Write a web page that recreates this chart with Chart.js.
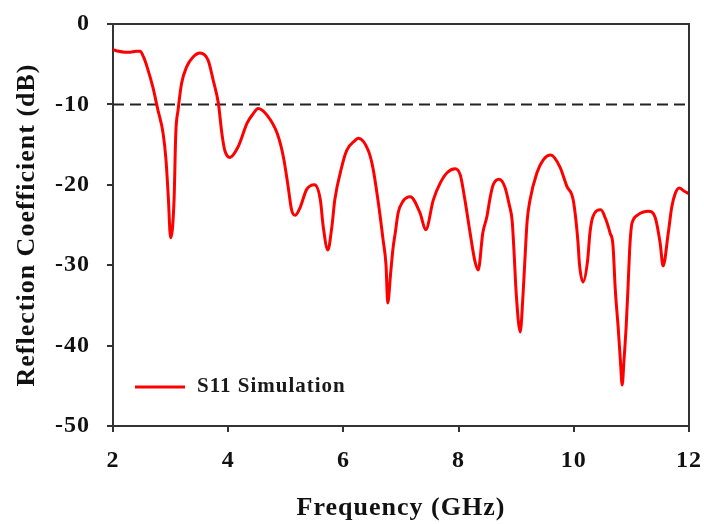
<!DOCTYPE html>
<html>
<head>
<meta charset="utf-8">
<script src="https://cdn.jsdelivr.net/npm/chart.js@4"></script>
<style>
  html, body { margin: 0; padding: 0; background: #fff; }
  #wrap { width: 704px; height: 524px; }
</style>
</head>
<body>
<div id="wrap"><canvas id="s11Chart" width="704" height="524"></canvas></div>
<script>
// Reflection coefficient
const freqGHz = [2.0, 2.1, 2.2, 2.3, 2.4, 2.47, 2.53, 2.59, 2.69, 2.78, 2.87, 2.92, 2.96, 3.0, 3.06, 3.09, 3.13, 3.19, 3.28, 3.39, 3.51, 3.65, 3.74, 3.83, 3.89, 3.94, 4.03, 4.17, 4.33, 4.43, 4.52, 4.67, 4.85, 4.96, 5.04, 5.1, 5.16, 5.25, 5.36, 5.5, 5.6, 5.65, 5.73, 5.8, 5.85, 5.97, 6.06, 6.2, 6.26, 6.43, 6.51, 6.6, 6.69, 6.74, 6.77, 6.82, 6.86, 6.9, 6.95, 7.03, 7.16, 7.33, 7.43, 7.56, 7.68, 7.8, 7.94, 8.03, 8.11, 8.2, 8.28, 8.34, 8.42, 8.49, 8.55, 8.6, 8.7, 8.8, 8.88, 8.93, 8.96, 9.0, 9.07, 9.12, 9.15, 9.19, 9.24, 9.36, 9.47, 9.6, 9.76, 9.88, 9.99, 10.07, 10.1, 10.16, 10.24, 10.28, 10.33, 10.47, 10.55, 10.63, 10.68, 10.72, 10.77, 10.81, 10.84, 10.87, 10.91, 10.94, 10.97, 11.0, 11.03, 11.1, 11.3, 11.41, 11.5, 11.55, 11.64, 11.7, 11.76, 11.83, 11.92, 12.0];
const s11dB = [-3.2, -3.4, -3.5, -3.5, -3.4, -3.4, -4.1, -5.3, -7.8, -10.7, -13.6, -16.9, -21.5, -26.6, -21.9, -13.6, -10.7, -7.4, -5.3, -4.1, -3.6, -4.5, -7.0, -9.9, -13.6, -15.7, -16.6, -15.3, -12.3, -11.2, -10.5, -11.3, -13.6, -16.6, -20.2, -23.1, -23.8, -22.8, -20.6, -20.0, -21.9, -25.2, -28.1, -25.2, -21.9, -17.8, -15.7, -14.5, -14.2, -15.7, -17.8, -21.9, -26.9, -30.0, -34.7, -31.0, -28.0, -26.0, -23.5, -22.1, -21.5, -23.5, -25.6, -21.9, -19.8, -18.5, -18.0, -18.8, -21.9, -26.0, -29.4, -30.6, -26.0, -24.0, -21.5, -20.0, -19.3, -20.2, -22.5, -24.5, -28.0, -33.5, -38.3, -33.5, -29.5, -24.5, -21.9, -18.5, -16.9, -16.3, -17.8, -20.2, -21.9, -26.9, -30.0, -32.1, -29.4, -26.0, -24.0, -23.1, -24.2, -26.0, -27.5, -33.0, -37.7, -42.0, -44.9, -42.0, -37.5, -33.0, -28.0, -25.2, -24.4, -23.8, -23.3, -24.0, -27.3, -30.1, -26.0, -22.8, -21.1, -20.4, -20.8, -21.1];
const refLevel = -10;
const xTicks = [2, 4, 6, 8, 10, 12];
const yTicks = [0, -10, -20, -30, -40, -50];
const seriesLabel = 'S11 Simulation';

const serif = '"Liberation Serif", "Times New Roman", serif';

const curve = freqGHz.map((f, i) => ({ x: f, y: s11dB[i] }));
const refLine = [{ x: xTicks[0], y: refLevel }, { x: xTicks[xTicks.length - 1], y: refLevel }];

// frame on top/right + legend inside plot
const framePlugin = {
  id: 'frame',
  beforeDraw(chart) {
    chart.ctx.letterSpacing = '1px';
  },
  afterDraw(chart) {
    const { ctx, chartArea: a } = chart;
    ctx.save();
    ctx.strokeStyle = '#333';
    ctx.lineWidth = 2;
    ctx.beginPath();
    ctx.moveTo(a.left, a.top);
    ctx.lineTo(a.right, a.top);
    ctx.lineTo(a.right, a.bottom);
    ctx.stroke();

    // legend
    const ds = chart.data.datasets[0];
    const ly = a.top + 363;
    ctx.strokeStyle = ds.borderColor;
    ctx.lineWidth = 3;
    ctx.beginPath();
    ctx.moveTo(a.left + 22, ly);
    ctx.lineTo(a.left + 72, ly);
    ctx.stroke();
    ctx.fillStyle = '#1a1a1a';
    ctx.font = 'bold 21px ' + serif;
    ctx.textBaseline = 'middle';
    ctx.fillText(ds.label, a.left + 84, ly);
    ctx.restore();
  }
};

new Chart(document.getElementById('s11Chart'), {
  type: 'line',
  data: {
    datasets: [{
      label: seriesLabel,
      data: curve,
      borderColor: '#ff0000',
      borderWidth: 3,
      pointRadius: 0,
      cubicInterpolationMode: 'monotone'
    }, {
      label: 'ref',
      data: refLine,
      borderColor: '#222',
      borderWidth: 2,
      borderDash: [11, 6],
      pointRadius: 0
    }]
  },
  options: {
    responsive: false,
    animation: false,
    layout: { padding: { top: 24, right: 15, left: 0, bottom: 0 } },
    plugins: { legend: { display: false }, tooltip: { enabled: false } },
    scales: {
      x: {
        type: 'linear',
        min: 2, max: 12,
        afterBuildTicks: s => { s.ticks = xTicks.map(v => ({ value: v })); },
        afterFit: s => { s.height = 98; s.paddingLeft = 0; s.paddingRight = 0; },
        grid: { drawOnChartArea: false, drawTicks: true, tickLength: 6, color: '#333', lineWidth: 2 },
        border: { color: '#333', width: 2 },
        ticks: { color: '#111', padding: 14, font: { family: serif, size: 24, weight: 'bold' } },
        title: {
          display: true, text: 'Frequency (GHz)', color: '#111',
          padding: { top: 0, bottom: 0 },
          font: { family: serif, size: 26, weight: 'bold' }
        }
      },
      y: {
        min: -50, max: 0,
        afterBuildTicks: s => { s.ticks = yTicks.map(v => ({ value: v })); },
        afterFit: s => { s.width = 113; s.paddingTop = 0; s.paddingBottom = 0; },
        grid: { drawOnChartArea: false, drawTicks: true, tickLength: 6, color: '#333', lineWidth: 2 },
        border: { color: '#333', width: 2 },
        ticks: { color: '#111', padding: 17, font: { family: serif, size: 24, weight: 'bold' } },
        title: {
          display: true, text: 'Reflection Coefficient (dB)', color: '#111',
          padding: { top: 12, bottom: 0 },
          font: { family: serif, size: 26, weight: 'bold' }
        }
      }
    }
  },
  plugins: [framePlugin]
});
</script>
</body>
</html>
